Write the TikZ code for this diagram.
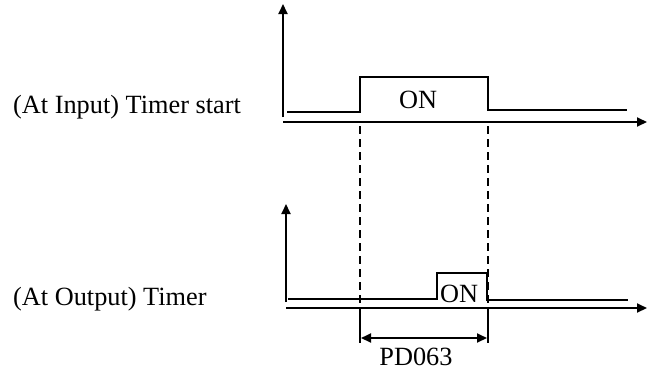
\documentclass[tikz,border=0pt]{standalone}
\usepackage{fontspec}
\setmainfont{Liberation Serif}
\usetikzlibrary{arrows.meta}
\begin{document}
\begin{tikzpicture}[x=1pt,y=-1pt,
  lbl/.style={inner sep=0pt,font=\fontsize{26.3}{30}\selectfont},
  sig/.style={line width=1.9pt},
  axis/.style={line width=1.9pt,-{Triangle[length=10pt,width=9pt]}},
  guide/.style={line width=1.5pt,dash pattern=on 8pt off 5pt},
  dim/.style={line width=1.9pt,{Triangle[length=10pt,width=9pt]}-{Triangle[length=10pt,width=9pt]}}]
\useasboundingbox (0,0) rectangle (647,381);
% labels
\node[lbl,anchor=base west] (l1) at (13,113) {(At Input) Timer start};
\node[lbl,anchor=base west] (l2) at (13,305) {(At Output) Timer};
% top axes
\coordinate (o1) at (283,117);
\coordinate (t1) at (283,4);
\coordinate (h1s) at (283,122);
\coordinate (h1e) at (647,122);
\draw[axis] (o1) -- (t1);
\draw[axis] (h1s) -- (h1e);
% top signal
\draw[sig] (287,112) -- (360,112) -- (360,77) -- (488,77) -- (488,110) -- (627,110);
\node[lbl,anchor=base] (on1) at (418,108) {ON};
% bottom axes
\coordinate (o2) at (286,302);
\coordinate (t2) at (286,204);
\coordinate (h2s) at (286,308);
\coordinate (h2e) at (647,308);
\draw[axis] (o2) -- (t2);
\draw[axis] (h2s) -- (h2e);
% bottom signal
\draw[sig] (288,299) -- (437,299) -- (437,273) -- (487,273) -- (487,300) -- (628,300);
\node[lbl,anchor=base] (on2) at (459,302) {ON};
% guides
\coordinate (ga) at (360,126);
\coordinate (gb) at (488,126);
\coordinate (gc) at (360,308);
\coordinate (gd) at (488,308);
\draw[guide] (ga) -- (gc);
\draw[guide] (gb) -- (gd);
\coordinate (ge) at (360,343);
\coordinate (gf) at (488,343);
\draw[line width=1.5pt] (gc) -- (ge);
\draw[line width=1.5pt] (gd) -- (gf);
% dimension
\coordinate (da) at (361,338);
\coordinate (db) at (487,338);
\draw[dim] (da) -- (db);
\node[lbl,anchor=base] (pd) at (416,365) {PD063};
\end{tikzpicture}
\end{document}
